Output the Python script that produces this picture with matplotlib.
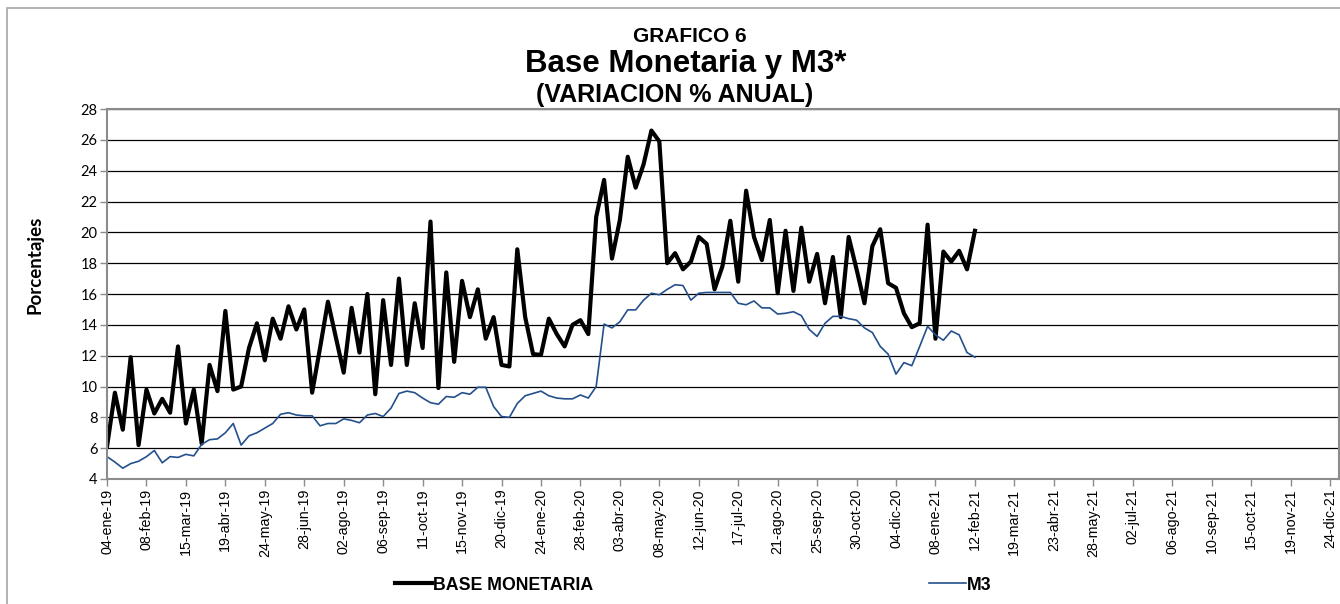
import matplotlib
matplotlib.use("Agg")
import matplotlib.pyplot as plt
from matplotlib.patches import Rectangle
import pandas as pd

# weekly data, first Friday of the series
start_date = "2019-01-04"

base_monetaria = [
    6.1, 9.6, 7.2, 11.9, 6.2, 9.8, 8.25, 9.2, 8.3, 12.6,
    7.6, 9.8, 6.3, 11.4, 9.7, 14.9, 9.8, 10.0, 12.5, 14.1,
    11.7, 14.4, 13.1, 15.2, 13.7, 15.0, 9.6, 12.5, 15.5, 13.2,
    10.9, 15.1, 12.2, 16.0, 9.5, 15.6, 11.4, 17.0, 11.4, 15.4,
    12.5, 20.7, 9.9, 17.4, 11.6, 16.85, 14.5, 16.3, 13.1, 14.5,
    11.4, 11.3, 18.9, 14.5, 12.1, 12.05, 14.4, 13.4, 12.6, 14.0,
    14.3, 13.4, 21.0, 23.4, 18.3, 20.8, 24.9, 22.9, 24.4, 26.6,
    25.9, 18.0, 18.65, 17.6, 18.1, 19.7, 19.25, 16.3, 17.8, 20.75,
    16.8, 22.7, 19.7, 18.2, 20.8, 16.05, 20.1, 16.2, 20.3, 16.8,
    18.6, 15.4, 18.4, 14.5, 19.7, 17.6, 15.4, 19.1, 20.2, 16.7,
    16.4, 14.75, 13.85, 14.1, 20.5, 13.1, 18.75, 18.1, 18.8, 17.6,
    20.1,
]

m3 = [
    5.45, 5.1, 4.7, 5.0, 5.15, 5.45, 5.85, 5.05, 5.45, 5.4,
    5.6, 5.5, 6.25, 6.55, 6.6, 7.0, 7.6, 6.2, 6.8, 7.0,
    7.3, 7.6, 8.2, 8.3, 8.15, 8.1, 8.1, 7.45, 7.6, 7.6,
    7.9, 7.8, 7.65, 8.15, 8.25, 8.05, 8.6, 9.55, 9.7, 9.6,
    9.25, 8.95, 8.85, 9.35, 9.3, 9.6, 9.5, 9.95, 9.95, 8.7,
    8.05, 8.0, 8.9, 9.4, 9.55, 9.7, 9.4, 9.25, 9.2, 9.2,
    9.45, 9.25, 10.0, 14.05, 13.8, 14.2, 14.97, 14.97, 15.6, 16.05,
    15.95, 16.3, 16.6, 16.55, 15.6, 16.05, 16.1, 16.1, 16.1, 16.1,
    15.4, 15.3, 15.55, 15.1, 15.1, 14.7, 14.75, 14.85, 14.6, 13.7,
    13.25, 14.1, 14.55, 14.55, 14.4, 14.3, 13.8, 13.5, 12.6, 12.1,
    10.8, 11.55, 11.35, 12.6, 13.9, 13.35, 13.0, 13.6, 13.35, 12.2,
    11.9,
]

meses = ["ene", "feb", "mar", "abr", "may", "jun",
         "jul", "ago", "sep", "oct", "nov", "dic"]

fechas = pd.date_range(start_date, periods=len(base_monetaria), freq="7D")
# axis ticks every 5 weeks up to end of 2021
tick_dates = pd.date_range(start_date, "2021-12-24", freq="35D")
tick_labels = [f"{d.day:02d}-{meses[d.month - 1]}-{d.strftime('%y')}" for d in tick_dates]

W, H = 1340, 604
fig = plt.figure(figsize=(W / 100, H / 100), dpi=100)
fig.patches.append(Rectangle((7 / W, -0.05), 1.2, 1.05 - 8 / H,
                             transform=fig.transFigure, fill=False,
                             edgecolor="#a6a6a6", lw=1.2))

ax = fig.add_axes([107 / W, (H - 479) / H, 1232 / W, 370 / H])

ax.plot(fechas, base_monetaria, color="black", lw=3.0, label="BASE MONETARIA")
ax.plot(fechas, m3, color="#24508c", lw=1.2, label="M3")

ax.set_ylim(4, 28)
ax.set_yticks(range(4, 29, 2))
ax.set_xlim(pd.Timestamp(start_date), pd.Timestamp("2022-01-01"))
ax.set_xticks(tick_dates)
ax.set_xticklabels(tick_labels, rotation=90, fontsize=10.3,
                   family="Liberation Sans")
for lbl in ax.get_yticklabels():
    lbl.set_family("Lato")
    lbl.set_fontsize(10.5)

ax.grid(axis="y", color="black", lw=0.9)
ax.set_axisbelow(True)
for s in ax.spines.values():
    s.set_color("#8c8c8c")
    s.set_linewidth(1.5)
ax.tick_params(axis="both", color="#8c8c8c", length=5, width=1, pad=2)

fig.text(35 / W, 1 - 265 / H, "Porcentajes", rotation=90, ha="center", va="center",
         fontsize=13.5, fontweight="bold", family="Lato")

fig.text(690 / W, 1 - 36 / H, "GRAFICO 6", ha="center", va="center",
         fontsize=15, fontweight="bold", family="Liberation Sans")
fig.text(686 / W, 1 - 64 / H, "Base Monetaria y M3*", ha="center", va="center",
         fontsize=22.5, fontweight="bold", family="Liberation Sans")
fig.text(675 / W, 1 - 95 / H, "(VARIACION % ANUAL)", ha="center", va="center",
         fontsize=18, fontweight="bold", family="Liberation Sans")

fig.legend(loc="center left", bbox_to_anchor=(395 / W, 1 - 585 / H), ncol=2,
           frameon=False, borderpad=0, borderaxespad=0, handlelength=2.08,
           handletextpad=0.05, columnspacing=18.9,
           prop={"family": "Liberation Sans", "weight": "bold", "size": 12.8})

fig.savefig("out.png", dpi=100)
